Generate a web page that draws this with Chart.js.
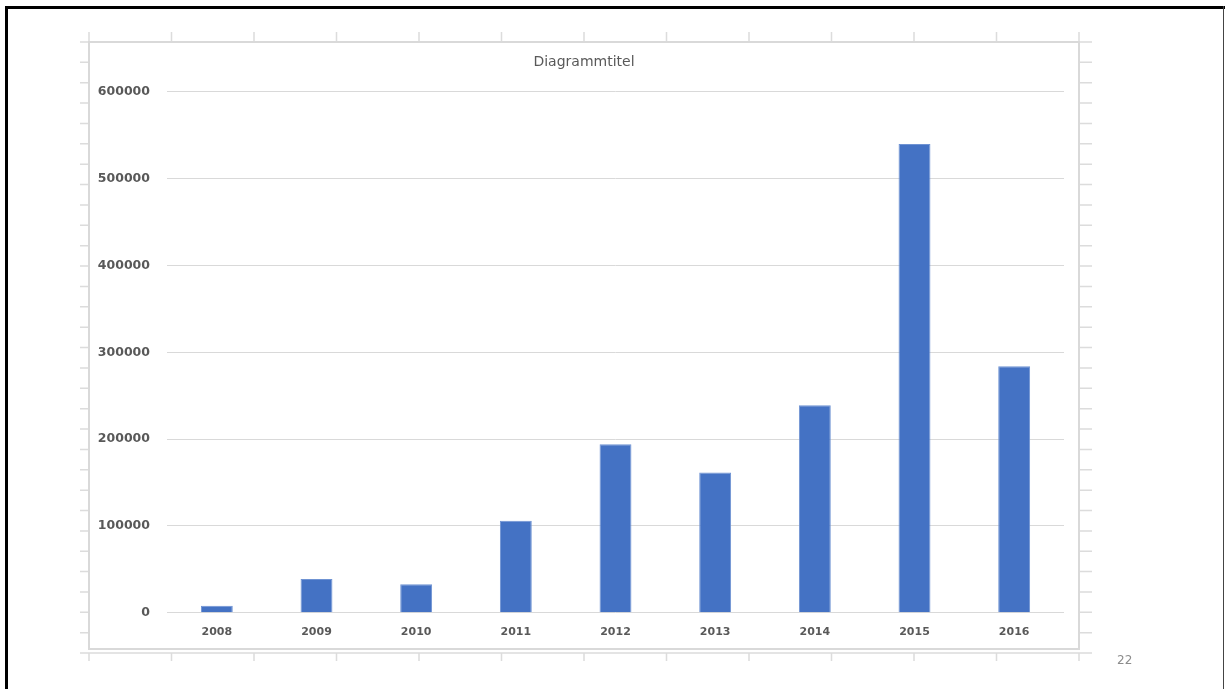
<!DOCTYPE html>
<html>
<head>
<meta charset="utf-8">
<title>Diagrammtitel</title>
<script src="https://cdn.jsdelivr.net/npm/chart.js@4/dist/chart.umd.min.js"></script>
<style>
    html, body { margin: 0; padding: 0; background: #fff; }
    #wrap { position: relative; width: 1225px; height: 689px; }
</style>
</head>
<body>
<div id="wrap"><canvas id="chart" width="1225" height="689"></canvas></div>
<script>
// values
const years = ['2008', '2009', '2010', '2011', '2012', '2013', '2014', '2015', '2016'];
const values = [8000, 39000, 33000, 106000, 194000, 161500, 239000, 540000, 284000];
const yTicks = [0, 100000, 200000, 300000, 400000, 500000, 600000];
const pageNumber = '22';

const textColor = '#595959';
const lineGray = '#d9d9d9';

// slide frame + spreadsheet rulers behind the chart
const sheetFrame = {
    id: 'sheetFrame',
    beforeDraw(chart) {
        const c = chart.ctx;
        c.save();
        c.fillStyle = '#fff';
        c.fillRect(0, 0, chart.width, chart.height);

        // ruler ticks
        c.strokeStyle = '#dcdcdc';
        c.lineWidth = 1.5;
        c.beginPath();
        for (let k = 0; k <= 12; k++) {
            const x = 89 + k * 82.5;
            c.moveTo(x, 32); c.lineTo(x, 42);
            c.moveTo(x, 653); c.lineTo(x, 661);
        }
        for (let k = 0; k <= 30; k++) {
            const y = 42 + k * 20.37;
            c.moveTo(80, y); c.lineTo(89, y);
            c.moveTo(1079, y); c.lineTo(1092, y);
        }
        c.moveTo(80, 653); c.lineTo(1092, 653);
        c.stroke();

        // chart border
        c.strokeStyle = lineGray;
        c.lineWidth = 2;
        c.strokeRect(89, 42, 990, 607);

        // slide border
        c.fillStyle = '#000';
        c.fillRect(5, 6, 1220, 3);
        c.fillRect(5, 6, 3, 683);
        c.fillStyle = '#444';
        c.fillRect(1223, 6, 1, 683);

        c.fillStyle = '#8c8c8c';
        c.font = '12px "DejaVu Sans"';
        c.textAlign = 'left';
        c.textBaseline = 'middle';
        c.fillText(pageNumber, 1117, 661);
        c.restore();
    }
};

const ctx = document.getElementById('chart').getContext('2d');
new Chart(ctx, {
    type: 'bar',
    data: {
        labels: years,
        datasets: [{
            data: values,
            backgroundColor: '#4472c4',
            borderColor: '#6f93d3',
            borderWidth: 1,
            barPercentage: 0.32,
            categoryPercentage: 1.0
        }]
    },
    options: {
        responsive: false,
        animation: false,
        layout: { padding: { top: 40, left: 0, right: 57, bottom: 45 } },
        plugins: {
            legend: { display: false },
            tooltip: { enabled: false },
            title: {
                display: true,
                text: 'Diagrammtitel',
                color: textColor,
                font: { family: 'DejaVu Sans', size: 14, weight: 'normal', lineHeight: 1.2 },
                padding: { top: 14, bottom: 21 }
            }
        },
        scales: {
            x: {
                grid: { display: false },
                border: { display: false },
                ticks: {
                    color: textColor,
                    padding: 5,
                    font: { family: 'DejaVu Sans', size: 11, weight: 'bold' }
                }
            },
            y: {
                min: 0,
                max: 600000,
                afterFit(scale) { scale.width = 167; },
                afterBuildTicks(scale) { scale.ticks = yTicks.map(v => ({ value: v })); },
                grid: { color: lineGray, lineWidth: 1, drawTicks: false },
                border: { display: false },
                ticks: {
                    color: textColor,
                    padding: 17,
                    font: { family: 'DejaVu Sans', size: 12.5, weight: 'bold' },
                    callback: v => String(v)
                }
            },
            // empty right axis, only keeps the plot clear of the right margin
            yRight: {
                position: 'right',
                min: 0,
                max: 600000,
                afterFit(scale) { scale.width = 104; },
                grid: { display: false },
                border: { display: false },
                ticks: { display: false }
            }
        }
    },
    plugins: [sheetFrame]
});
</script>
</body>
</html>
